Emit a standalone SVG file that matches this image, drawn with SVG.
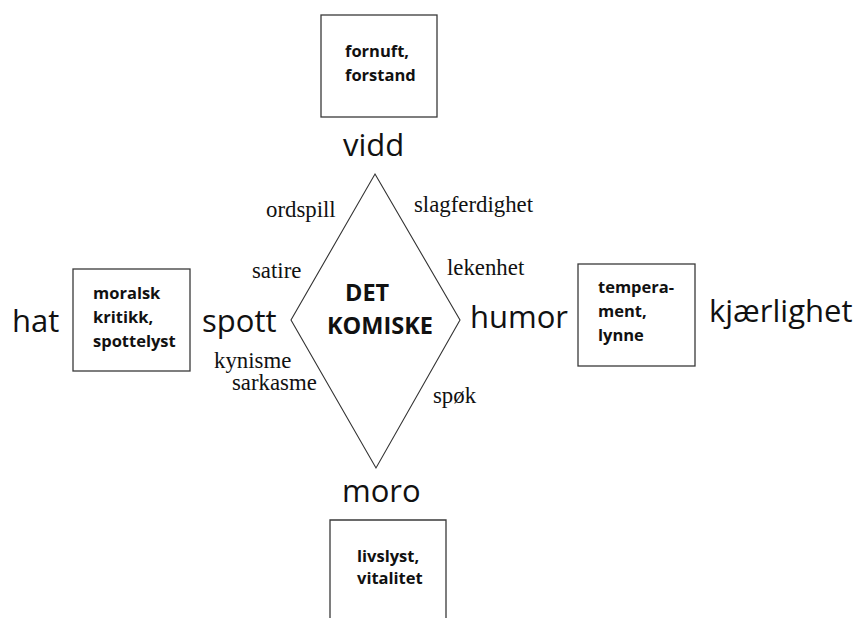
<svg xmlns="http://www.w3.org/2000/svg" width="859" height="618" viewBox="0 0 859 618">
<style>
.box{fill:#fff;stroke:#3a3a3a;stroke-width:1.3}
.bt{font-family:"Open Sans","Noto Sans",sans-serif;font-weight:bold;font-size:16.5px;fill:#111}
.big{font-family:"Open Sans","Noto Sans",sans-serif;font-size:31px;fill:#111}
.ser{font-family:"Liberation Serif","Times New Roman",serif;font-size:22.8px;fill:#111}
.ctr{font-family:"Open Sans","Noto Sans",sans-serif;font-weight:bold;font-size:23.5px;fill:#111}
.edge{fill:none;stroke:#333;stroke-width:1.1}
</style>
<rect width="859" height="618" fill="#fff"/>
<g id="connectors">
<polygon class="edge" points="375,174 460,320 376,468 291,320"/>
</g>
<g id="center">
<text class="ctr" x="345" y="301">DET</text>
<text class="ctr" x="327" y="334">KOMISKE</text>
</g>
<g id="top">
<rect class="box" x="321" y="15" width="116" height="102"/>
<text class="bt" x="345" y="57">fornuft,</text>
<text class="bt" x="345" y="81">forstand</text>
<text class="big" x="343" y="156">vidd</text>
</g>
<g id="left">
<text class="big" x="12" y="332">hat</text>
<rect class="box" x="73" y="269" width="117" height="102"/>
<text class="bt" x="93" y="299">moralsk</text>
<text class="bt" x="93" y="323">kritikk,</text>
<text class="bt" x="93" y="347">spottelyst</text>
<text class="big" x="202" y="332">spott</text>
</g>
<g id="right">
<text class="big" x="470" y="328">humor</text>
<rect class="box" x="578" y="264" width="117" height="102"/>
<text class="bt" x="598" y="293">tempera-</text>
<text class="bt" x="598" y="317">ment,</text>
<text class="bt" x="598" y="341">lynne</text>
<text class="big" x="709" y="322">kjærlighet</text>
</g>
<g id="bottom">
<text class="big" x="342" y="502">moro</text>
<path class="box" d="M330,625 V520 H446 V625"/>
<text class="bt" x="357" y="562">livslyst,</text>
<text class="bt" x="357" y="584">vitalitet</text>
</g>
<g id="labels">
<text class="ser" x="266" y="217">ordspill</text>
<text class="ser" x="414" y="212">slagferdighet</text>
<text class="ser" x="252" y="278">satire</text>
<text class="ser" x="447" y="275">lekenhet</text>
<text class="ser" x="214" y="368">kynisme</text>
<text class="ser" x="232" y="390">sarkasme</text>
<text class="ser" x="433" y="403">spøk</text>
</g>
</svg>
